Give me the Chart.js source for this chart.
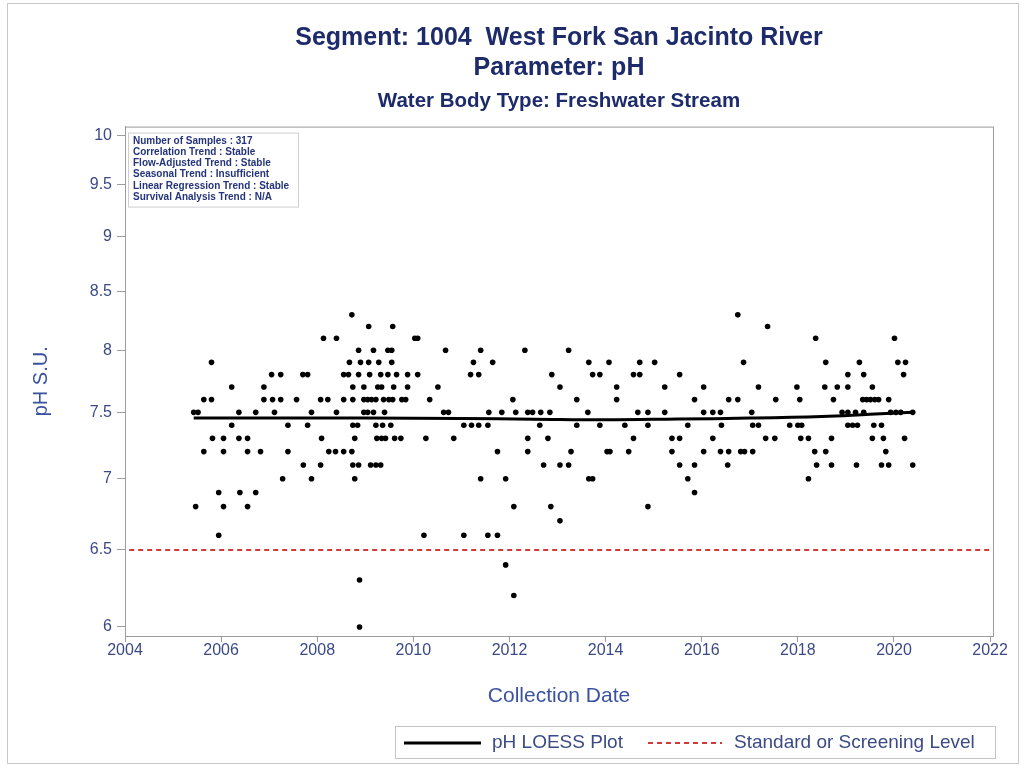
<!DOCTYPE html>
<html>
<head>
<meta charset="utf-8">
<script src="https://cdn.jsdelivr.net/npm/chart.js@4.4.1/dist/chart.umd.min.js"></script>
<style>
html,body{margin:0;padding:0;background:#fff;}
#caja{width:1026px;height:770px;position:relative;}
</style>
</head>
<body>
<div id="caja"><canvas id="graficoPH" width="1026" height="770"></canvas></div>
<script>
// Fechas de muestreo (año decimal) agrupadas por valor de pH
const ph83 = [2008.72, 2016.75];
const ph82 = [2009.07, 2009.57, 2017.37];
const ph81 = [2008.13, 2008.40, 2010.03, 2010.09, 2018.37, 2020.01];
const ph80 = [2008.86, 2009.17, 2009.47, 2009.55, 2010.67, 2011.40, 2012.32, 2013.23];
const ph79 = [2005.80, 2008.67, 2008.90, 2009.07, 2009.28, 2009.55, 2011.25, 2011.65, 2013.65, 2014.07, 2014.71, 2015.02, 2016.87, 2018.58, 2019.28, 2020.08, 2020.24];
const ph78 = [2007.05, 2007.24, 2007.70, 2007.80, 2008.55, 2008.65, 2008.86, 2009.09, 2009.32, 2009.47, 2009.65, 2009.88, 2010.09, 2011.19, 2011.36, 2012.88, 2013.73, 2013.88, 2014.58, 2014.71, 2015.54, 2019.04, 2019.37, 2020.20];
const ph77 = [2006.22, 2006.89, 2008.74, 2008.97, 2009.26, 2009.34, 2009.59, 2009.88, 2010.51, 2013.05, 2014.23, 2015.23, 2016.04, 2017.18, 2017.98, 2018.56, 2018.82, 2019.04, 2019.55];
const ph76 = [2005.64, 2005.80, 2006.89, 2007.07, 2007.24, 2007.57, 2008.07, 2008.22, 2008.55, 2008.74, 2008.97, 2009.05, 2009.13, 2009.22, 2009.38, 2009.49, 2009.57, 2009.76, 2009.84, 2010.34, 2012.07, 2013.40, 2014.23, 2015.85, 2016.56, 2016.75, 2017.54, 2018.04, 2018.74, 2019.35, 2019.43, 2019.51, 2019.60, 2019.68, 2019.89];
const ph75 = [2005.43, 2005.52, 2006.37, 2006.72, 2007.11, 2007.88, 2008.40, 2008.97, 2009.05, 2009.17, 2009.40, 2010.63, 2010.73, 2011.57, 2011.84, 2012.13, 2012.38, 2012.48, 2012.65, 2012.84, 2013.63, 2014.67, 2014.88, 2015.23, 2016.04, 2016.23, 2016.39, 2017.04, 2018.92, 2019.04, 2019.20, 2019.37, 2019.93, 2020.04, 2020.14, 2020.39];
const ph74 = [2006.22, 2007.39, 2007.80, 2008.74, 2008.84, 2009.22, 2009.36, 2009.53, 2011.05, 2011.21, 2011.36, 2011.55, 2012.63, 2013.40, 2013.88, 2014.40, 2014.88, 2015.71, 2016.41, 2017.06, 2017.18, 2017.83, 2018.00, 2018.08, 2019.04, 2019.14, 2019.24, 2019.58, 2019.74];
const ph73 = [2005.82, 2006.05, 2006.37, 2006.55, 2008.09, 2008.78, 2009.24, 2009.34, 2009.42, 2009.61, 2009.74, 2010.26, 2010.84, 2012.38, 2012.80, 2014.58, 2015.38, 2015.54, 2016.23, 2017.33, 2017.52, 2018.06, 2018.22, 2018.70, 2019.55, 2019.78, 2020.22];
const ph72 = [2005.64, 2006.05, 2006.55, 2006.82, 2007.39, 2008.24, 2008.38, 2008.55, 2008.72, 2011.75, 2012.38, 2013.28, 2014.03, 2014.09, 2014.48, 2015.38, 2016.04, 2016.39, 2016.56, 2016.81, 2016.89, 2017.06, 2018.35, 2018.58, 2019.83];
const ph71 = [2007.71, 2008.07, 2008.74, 2008.86, 2009.11, 2009.22, 2009.32, 2012.71, 2013.05, 2013.23, 2015.54, 2015.85, 2016.54, 2018.39, 2018.70, 2019.22, 2019.74, 2019.89, 2020.39];
const ph70 = [2007.28, 2007.88, 2008.78, 2011.40, 2011.92, 2013.65, 2013.73, 2015.71, 2018.22];
const ph69 = [2005.95, 2006.39, 2006.72, 2015.85];
const ph68 = [2005.47, 2006.05, 2006.55, 2012.09, 2012.86, 2014.88];
const ph67 = [2013.05];
const ph66 = [2005.95, 2010.22, 2011.05, 2011.55, 2011.75];
const ph64 = [2011.92];
const ph63 = [2008.88];
const ph62 = [2012.09];
const ph60 = [2008.88];

const nivelesPH = [8.3, 8.2, 8.1, 8.0, 7.9, 7.8, 7.7, 7.6, 7.5, 7.4, 7.3, 7.2, 7.1, 7.0, 6.9, 6.8, 6.7, 6.6, 6.4, 6.3, 6.2, 6.0];
const fechasPorNivel = [ph83, ph82, ph81, ph80, ph79, ph78, ph77, ph76, ph75, ph74, ph73, ph72, ph71, ph70, ph69, ph68, ph67, ph66, ph64, ph63, ph62, ph60];

// Curva LOESS
const loessFechas = [2005.43, 2007, 2009, 2011, 2012.5, 2014, 2015.5, 2017, 2018.5, 2019.5, 2020.39];
const loessPH = [7.455, 7.455, 7.455, 7.452, 7.447, 7.442, 7.448, 7.455, 7.468, 7.485, 7.50];

const nivelEstandar = 6.5;
const marcasX = [2004, 2006, 2008, 2010, 2012, 2014, 2016, 2018, 2020, 2022];
const marcasY = [6, 6.5, 7, 7.5, 8, 8.5, 9, 9.5, 10];

const lineasResumen = [
    'Number of Samples : 317',
    'Correlation Trend : Stable',
    'Flow-Adjusted Trend : Stable',
    'Seasonal Trend : Insufficient',
    'Linear Regression Trend : Stable',
    'Survival Analysis Trend : N/A'
];

const fuente = '"Liberation Sans", Arial, sans-serif';
const azulTexto = '#3b4a86';

const muestras = nivelesPH.flatMap((n, i) => fechasPorNivel[i].map(f => ({x: f, y: n})));
const loess = loessFechas.map((f, i) => ({x: f, y: loessPH[i]}));
const estandar = [{x: 2003.9, y: nivelEstandar}, {x: 2022.2, y: nivelEstandar}];

// Marco, cuadro de resumen y leyenda
const marcos = {
    id: 'marcos',
    afterDraw(chart) {
        const {ctx, chartArea: a} = chart;
        ctx.save();
        ctx.strokeStyle = '#9c9c9c';
        ctx.lineWidth = 1;
        ctx.strokeRect(a.left + 0.5, a.top + 0.5, a.right - a.left, a.bottom - a.top);

        ctx.strokeStyle = '#cfcfcf';
        ctx.strokeRect(a.left + 3.5, a.top + 6.5, 170, 74);
        ctx.fillStyle = '#24347a';
        ctx.font = 'bold 10px ' + fuente;
        ctx.textBaseline = 'middle';
        lineasResumen.forEach((t, i) => ctx.fillText(t, a.left + 8, a.top + 14.5 + i * 11.2));

        // leyenda
        ctx.strokeStyle = '#c4c4c4';
        ctx.strokeRect(395.5, 726.5, 600, 32);
        ctx.strokeStyle = '#000';
        ctx.lineWidth = 3;
        ctx.beginPath(); ctx.moveTo(404, 743); ctx.lineTo(481, 743); ctx.stroke();
        ctx.strokeStyle = '#d23a3a';
        ctx.lineWidth = 2;
        ctx.setLineDash([5, 4]);
        ctx.beginPath(); ctx.moveTo(648, 743); ctx.lineTo(722, 743); ctx.stroke();
        ctx.setLineDash([]);
        ctx.fillStyle = azulTexto;
        ctx.font = '19px ' + fuente;
        ctx.fillText('pH LOESS Plot', 492, 743);
        ctx.fillText('Standard or Screening Level', 734, 743);

        // borde exterior
        ctx.strokeStyle = '#c8c8c8';
        ctx.lineWidth = 1;
        ctx.strokeRect(7.5, 3.5, 1011, 760);
        ctx.restore();
    }
};

const ctx = document.getElementById('graficoPH').getContext('2d');
new Chart(ctx, {
    type: 'scatter',
    data: {
        datasets: [
            {
                type: 'line',
                label: 'pH LOESS Plot',
                data: loess,
                borderColor: '#000',
                borderWidth: 3,
                pointRadius: 0,
                tension: 0.4,
                fill: false
            },
            {
                type: 'line',
                label: 'Standard or Screening Level',
                data: estandar,
                borderColor: '#d23a3a',
                borderWidth: 2,
                borderDash: [5, 4],
                pointRadius: 0,
                fill: false
            },
            {
                label: 'pH',
                data: muestras,
                backgroundColor: '#000',
                borderWidth: 0,
                pointRadius: 2.8
            }
        ]
    },
    options: {
        responsive: false,
        animation: false,
        devicePixelRatio: 1,
        layout: { padding: { left: 0, right: 33, bottom: 54, top: 0 } },
        plugins: {
            legend: { display: false },
            tooltip: { enabled: false },
            title: {
                display: true,
                fullSize: false,
                text: ['Segment: 1004  West Fork San Jacinto River', 'Parameter: pH'],
                color: '#1d2b6b',
                font: { family: fuente, size: 25, weight: 'bold', lineHeight: 1.2 },
                padding: { top: 23, bottom: 0 }
            },
            subtitle: {
                display: true,
                fullSize: false,
                text: 'Water Body Type: Freshwater Stream',
                color: '#1d2b6b',
                font: { family: fuente, size: 20.5, weight: 'bold', lineHeight: 1.2 },
                padding: { top: 6, bottom: 13 }
            }
        },
        scales: {
            x: {
                type: 'linear',
                min: 2004,
                max: 2022.06,
                afterBuildTicks: s => { s.ticks = marcasX.map(v => ({value: v})); },
                afterFit: s => { s.height = 80; },
                ticks: { color: azulTexto, font: { family: fuente, size: 16 }, padding: -1, maxRotation: 0, callback: v => String(v) },
                grid: { drawOnChartArea: false, color: '#9c9c9c', tickLength: 6 },
                border: { color: '#9c9c9c' },
                title: { display: true, text: 'Collection Date', color: '#3a52a0', font: { family: fuente, size: 21 }, padding: { bottom: 7 } }
            },
            y: {
                type: 'logarithmic',
                min: 5.944,
                max: 10.094,
                afterBuildTicks: s => { s.ticks = marcasY.map(v => ({value: v})); },
                afterFit: s => { s.width = 125; },
                ticks: { color: azulTexto, font: { family: fuente, size: 16 }, padding: 5, callback: v => String(v) },
                grid: { drawOnChartArea: false, color: '#9c9c9c', tickLength: 8 },
                border: { color: '#9c9c9c' },
                title: { display: true, text: 'pH S.U.', color: '#3a52a0', font: { family: fuente, size: 20 }, padding: { top: 29 } }
            }
        }
    },
    plugins: [marcos]
});
</script>
</body>
</html>
